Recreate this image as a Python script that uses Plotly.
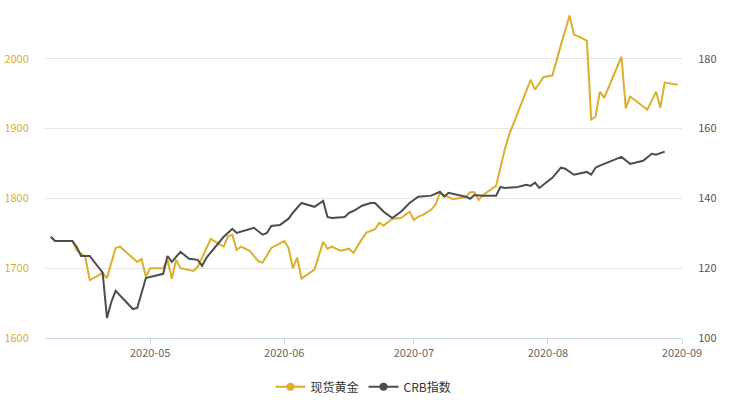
import plotly.graph_objects as go

gold_dates = ["2020-04-08","2020-04-09","2020-04-13","2020-04-14","2020-04-16","2020-04-17","2020-04-20","2020-04-21","2020-04-23","2020-04-24",
              "2020-04-28","2020-04-29","2020-04-30","2020-05-01","2020-05-04","2020-05-05","2020-05-06","2020-05-07","2020-05-08","2020-05-11",
              "2020-05-12","2020-05-15","2020-05-16","2020-05-18","2020-05-19","2020-05-20","2020-05-21","2020-05-22","2020-05-24","2020-05-26",
              "2020-05-27","2020-05-29","2020-06-01","2020-06-02","2020-06-03","2020-06-04","2020-06-05","2020-06-08","2020-06-10","2020-06-11",
              "2020-06-12","2020-06-14","2020-06-16","2020-06-17","2020-06-19","2020-06-20","2020-06-22","2020-06-23","2020-06-24","2020-06-26",
              "2020-06-28","2020-06-30","2020-07-01","2020-07-02","2020-07-03","2020-07-05","2020-07-06","2020-07-07","2020-07-09","2020-07-10",
              "2020-07-13","2020-07-14","2020-07-15","2020-07-16","2020-07-17","2020-07-20","2020-07-22","2020-07-23","2020-07-28","2020-07-29",
              "2020-07-31","2020-08-02","2020-08-04","2020-08-06","2020-08-07","2020-08-10","2020-08-11","2020-08-12","2020-08-13","2020-08-14",
              "2020-08-18","2020-08-19","2020-08-20","2020-08-24","2020-08-26","2020-08-27","2020-08-28","2020-08-31"]
gold_values = [1745, 1739, 1739, 1726, 1716, 1683, 1693, 1686, 1729, 1731,
               1709, 1713, 1688, 1700, 1700, 1712, 1685, 1712, 1700, 1696,
               1702, 1742, 1738, 1731, 1746, 1748, 1726, 1731, 1725, 1710,
               1708, 1729, 1739, 1729, 1700, 1715, 1685, 1698, 1738, 1728,
               1731, 1725, 1728, 1722, 1742, 1751, 1756, 1765, 1761, 1771,
               1772, 1781, 1769, 1774, 1776, 1784, 1791, 1808, 1802, 1799,
               1802, 1809, 1809, 1798, 1805, 1818, 1870, 1891, 1970, 1956,
               1974, 1976, 2020, 2062, 2035, 2026, 1913, 1917, 1953, 1944,
               2003, 1929, 1946, 1927, 1953, 1930, 1966, 1963]

crb_dates = ["2020-04-08","2020-04-09","2020-04-13","2020-04-14","2020-04-15","2020-04-17","2020-04-20","2020-04-21","2020-04-22","2020-04-23",
             "2020-04-27","2020-04-28","2020-04-30","2020-05-02","2020-05-04","2020-05-05","2020-05-06","2020-05-08","2020-05-10","2020-05-12",
             "2020-05-13","2020-05-14","2020-05-16","2020-05-18","2020-05-20","2020-05-21","2020-05-25","2020-05-27","2020-05-28","2020-05-29",
             "2020-05-31","2020-06-02","2020-06-03","2020-06-05","2020-06-08","2020-06-10","2020-06-11","2020-06-12","2020-06-15","2020-06-16",
             "2020-06-17","2020-06-19","2020-06-21","2020-06-22","2020-06-24","2020-06-26","2020-06-28","2020-06-30","2020-07-02","2020-07-05",
             "2020-07-07","2020-07-08","2020-07-09","2020-07-13","2020-07-14","2020-07-15","2020-07-17","2020-07-20","2020-07-21","2020-07-22",
             "2020-07-25","2020-07-27","2020-07-28","2020-07-29","2020-07-30","2020-08-02","2020-08-04","2020-08-05","2020-08-07","2020-08-10",
             "2020-08-11","2020-08-12","2020-08-13","2020-08-16","2020-08-18","2020-08-20","2020-08-23","2020-08-25","2020-08-26","2020-08-28"]
crb_values = [129.0, 127.8, 127.8, 126.1, 123.5, 123.5, 118.7, 105.7, 110.3, 113.5,
              108.3, 108.6, 117.2, 117.8, 118.4, 123.5, 121.8, 124.7, 122.7, 122.4,
              120.7, 123.0, 126.1, 129.0, 131.3, 130.1, 131.6, 129.6, 130.1, 132.1,
              132.4, 134.2, 135.9, 138.7, 137.6, 139.3, 134.7, 134.4, 134.7, 135.9,
              136.4, 137.9, 138.7, 138.7, 136.2, 134.4, 136.2, 138.7, 140.5, 140.8,
              141.9, 140.5, 141.6, 140.5, 139.9, 141.0, 140.8, 140.8, 143.3, 143.0,
              143.3, 143.9, 143.6, 144.5, 143.0, 145.9, 148.8, 148.5, 146.8, 147.6,
              146.8, 148.8, 149.4, 150.8, 151.9, 149.9, 150.8, 152.8, 152.5, 153.4]

month_ticks = ["2020-05-01", "2020-06-01", "2020-07-01", "2020-08-01", "2020-09-01"]
month_labels = ["2020-05", "2020-06", "2020-07", "2020-08", "2020-09"]
left_ticks = [1600, 1700, 1800, 1900, 2000]
right_ticks = [100, 120, 140, 160, 180]
series_names = ["现货黄金", "CRB指数"]

GOLD = "#dcae2a"
GRAY = "#4d4d4d"
FONT = "Noto Sans CJK SC, Open Sans, sans-serif"

fig = go.Figure()
fig.add_trace(go.Scatter(x=gold_dates, y=gold_values, mode="lines", name=series_names[0],
                         line=dict(color=GOLD, width=2), yaxis="y", showlegend=False))
fig.add_trace(go.Scatter(x=crb_dates, y=crb_values, mode="lines", name=series_names[1],
                         line=dict(color=GRAY, width=2), yaxis="y2", showlegend=False))
# legend entries
fig.add_trace(go.Scatter(x=[None], y=[None], mode="lines+markers", name=series_names[0],
                         line=dict(color=GOLD, width=2), marker=dict(color=GOLD, size=8), yaxis="y"))
fig.add_trace(go.Scatter(x=[None], y=[None], mode="lines+markers", name=series_names[1],
                         line=dict(color=GRAY, width=2), marker=dict(color=GRAY, size=8), yaxis="y2"))

fig.update_layout(
    width=729, height=400,
    margin=dict(l=45, r=47, t=10, b=62, autoexpand=False),
    paper_bgcolor="white", plot_bgcolor="white",
    font=dict(family=FONT, size=11, color="#666"),
    showlegend=True,
    legend=dict(orientation="h", x=0.5, xanchor="center", y=-0.149, yanchor="middle",
                font=dict(size=12, color="#333"), itemwidth=30, traceorder="normal"),
    xaxis=dict(type="date", range=["2020-04-06 16:00", "2020-09-01"],
               tickvals=month_ticks, ticktext=month_labels, automargin=False,
               showgrid=False, zeroline=False,
               showline=True, linecolor="#ccd6eb", linewidth=1,
               ticks="outside", ticklen=5, tickcolor="#ccd6eb",
               tickfont=dict(size=11, color="#666")),
    yaxis=dict(range=[1600, 2070], tickvals=left_ticks, showgrid=True, gridcolor="#e6e6e6",
               zeroline=False, showline=False, automargin=False,
               ticks="outside", ticklen=13, tickcolor="rgba(0,0,0,0)",
               tickfont=dict(size=11, color=GOLD)),
    yaxis2=dict(range=[100, 194], tickvals=right_ticks, overlaying="y", side="right",
                showgrid=False, zeroline=False, showline=False, automargin=False,
                ticks="outside", ticklen=13, tickcolor="rgba(0,0,0,0)",
                tickfont=dict(size=11, color="#555")),
)

fig.write_html("out.html", config={"displayModeBar": False},
               post_script="document.body.style.margin='0px';")
